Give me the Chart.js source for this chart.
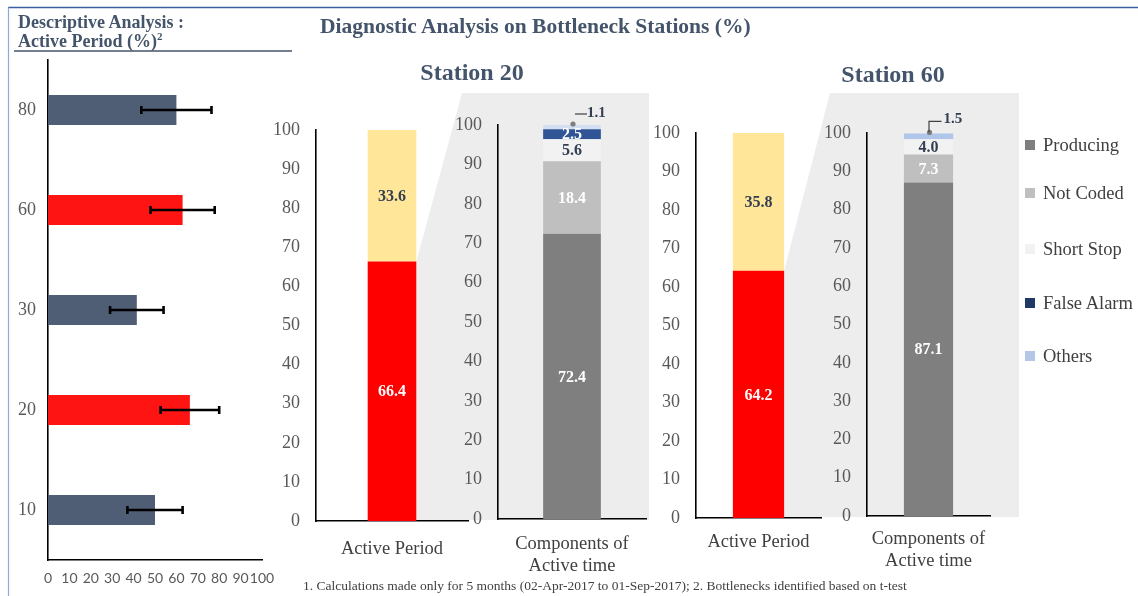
<!DOCTYPE html>
<html>
<head>
<meta charset="utf-8">
<script src="https://cdn.jsdelivr.net/npm/chart.js@4.4.1/dist/chart.umd.min.js"></script>
<style>
html,body{margin:0;padding:0;background:#fff;width:1138px;height:596px;overflow:hidden;position:relative;font-family:"Liberation Serif","Times New Roman",serif;}
canvas{position:absolute;}
.t{position:absolute;white-space:nowrap;z-index:3;}
.ttl{color:#44546A;font-weight:bold;}
.leg{position:absolute;z-index:3;font-size:18.5px;color:#404040;line-height:20px;height:20px;white-space:nowrap;}
.leg i{position:absolute;left:-18px;top:5px;width:10px;height:10px;}
</style>
</head>
<body>
<canvas id="bg" width="1138" height="596" style="left:0;top:0;z-index:0"></canvas>
<canvas id="cLeft" style="z-index:1"></canvas>
<canvas id="c20a" style="z-index:1"></canvas>
<canvas id="c20b" style="z-index:1"></canvas>
<canvas id="c60a" style="z-index:1"></canvas>
<canvas id="c60b" style="z-index:1"></canvas>

<div class="t ttl" style="left:18px;top:13px;font-size:18px;line-height:18px;">Descriptive Analysis :</div>
<div class="t ttl" style="left:18px;top:32px;font-size:18px;line-height:18px;">Active Period (%)<sup style="font-size:11px;line-height:0;">2</sup></div>
<div class="t ttl" style="left:320px;top:16px;font-size:21.5px;line-height:21.5px;">Diagnostic Analysis on Bottleneck Stations (%)</div>
<div class="t ttl" style="left:372px;width:200px;text-align:center;top:60px;font-size:24px;line-height:24px;">Station 20</div>
<div class="t ttl" style="left:793px;width:200px;text-align:center;top:62px;font-size:24px;line-height:24px;">Station 60</div>
<div id="legend"></div>
<div class="t" style="left:303px;top:578px;font-size:13.5px;line-height:16px;color:#404040;">1. Calculations made only for 5 months (02-Apr-2017 to 01-Sep-2017); 2. Bottlenecks identified based on t-test</div>

<script>
// ---------------- data ----------------
const leftStations = ['80', '60', '30', '20', '10'];
const leftActivePeriod = [60.0, 62.9, 41.5, 66.3, 50.0];
const leftError = [16.4, 15.0, 12.5, 13.7, 12.9];
const leftBottleneck = [false, true, false, true, false];
const leftTicks = [0, 10, 20, 30, 40, 50, 60, 70, 80, 90, 100];

const activeCategory = ['Active Period'];
const componentCategory = [['Components of', 'Active time']];
const s20Active = [66.4];
const s20Idle = [33.6];
const s60Active = [64.2];
const s60Idle = [35.8];

const componentNames = ['Producing', 'Not Coded', 'Short Stop', 'False Alarm', 'Others'];
const s20Producing = [72.4], s20NotCoded = [18.4], s20ShortStop = [5.6], s20FalseAlarm = [2.5], s20Others = [1.1];
const s60Producing = [87.1], s60NotCoded = [7.3], s60ShortStop = [4.0], s60FalseAlarm = [0], s60Others = [1.5];
const percentTicks = [0, 10, 20, 30, 40, 50, 60, 70, 80, 90, 100];

// ---------------- styles ----------------
const SERIF = '"Liberation Serif","Times New Roman",serif';
Chart.defaults.font.family = SERIF;
const legendColors = ['#7F7F7F', '#BFBFBF', '#F2F2F2', '#203864', '#B4C7E7'];

// error bars drawn through the chart's own scales
const errorBarPlugin = {
  id: 'errbars',
  afterDatasetsDraw(chart, args, opts) {
    if (!opts || !opts.errors) return;
    const ctx = chart.ctx, xs = chart.scales.x;
    const meta = chart.getDatasetMeta(0);
    const vals = chart.data.datasets[0].data;
    ctx.save();
    ctx.strokeStyle = '#000'; ctx.lineWidth = 2.6; ctx.lineCap = 'butt';
    meta.data.forEach((el, i) => {
      const e = opts.errors[i];
      const x1 = xs.getPixelForValue(vals[i] - e), x2 = xs.getPixelForValue(vals[i] + e), y = el.y;
      ctx.beginPath();
      ctx.moveTo(x1, y); ctx.lineTo(x2, y);
      ctx.moveTo(x1, y - 4); ctx.lineTo(x1, y + 4);
      ctx.moveTo(x2, y - 4); ctx.lineTo(x2, y + 4);
      ctx.stroke();
    });
    ctx.restore();
  }
};

const valueLabelPlugin = {
  id: 'valueLabels',
  afterDatasetsDraw(chart) {
    const ctx = chart.ctx;
    chart.data.datasets.forEach((ds, di) => {
      const lab = ds.valueLabel;
      if (!lab) return;
      const meta = chart.getDatasetMeta(di);
      meta.data.forEach((el, i) => {
        const v = ds.data[i];
        if (!v) return;
        const text = v.toFixed(1);
        ctx.save();
        ctx.textBaseline = 'middle';
        if (lab.callout) {
          const x = el.x, y = el.y;
          ctx.fillStyle = '#7F7F7F';
          ctx.beginPath(); ctx.arc(x + 1, y - 1, 2.6, 0, Math.PI * 2); ctx.fill();
          ctx.strokeStyle = '#404040'; ctx.lineWidth = 1.2;
          ctx.beginPath();
          let tx, ty;
          if (lab.callout === 'elbow') {
            ctx.moveTo(x + 0.5, y - 1); ctx.lineTo(x + 0.5, y - 12); ctx.lineTo(x + 13, y - 12);
            tx = x + 15; ty = y - 14;
          } else {
            ctx.moveTo(x + 3, y - 11); ctx.lineTo(x + 15, y - 11);
            tx = x + 15; ty = y - 12;
          }
          ctx.stroke();
          ctx.font = 'bold 15px ' + SERIF;
          ctx.fillStyle = lab.color; ctx.textAlign = 'left';
          ctx.fillText(text, tx, ty);
        } else {
          ctx.font = 'bold 16px ' + SERIF;
          ctx.fillStyle = lab.color; ctx.textAlign = 'center';
          ctx.fillText(text, el.x, (el.y + el.base) / 2 + 1);
        }
        ctx.restore();
      });
    });
  }
};
Chart.register(errorBarPlugin, valueLabelPlugin);

function makeChart(id, rect, area, config) {
  const cv = document.getElementById(id);
  cv.width = rect.w; cv.height = rect.h;
  cv.style.left = rect.l + 'px'; cv.style.top = rect.t + 'px';
  cv.style.width = rect.w + 'px'; cv.style.height = rect.h + 'px';
  const o = config.options;
  o.responsive = false; o.animation = false; o.devicePixelRatio = 1;
  o.events = [];
  o.layout = { padding: { left: 0, top: area.t - rect.t, right: rect.l + rect.w - area.r, bottom: 0 } };
  o.scales.y.afterFit = s => { s.width = area.l - rect.l; };
  o.scales.x.afterFit = s => { s.height = rect.t + rect.h - area.b; };
  o.plugins = Object.assign({ legend: { display: false }, tooltip: { enabled: false } }, o.plugins || {});
  return new Chart(cv, config);
}

const axisBorder = { display: true, color: '#000', width: 1.6 };

// ---------------- left chart ----------------
const leftRect = { l: 0, t: 40, w: 292, h: 556 };
makeChart('cLeft', leftRect, { l: 48, t: 60, r: 262, b: 560 }, {
  type: 'bar',
  data: {
    labels: leftStations,
    datasets: [{
      data: leftActivePeriod,
      backgroundColor: leftBottleneck.map(b => b ? '#FF1414' : '#4F5D75'),
      barPercentage: 0.3, categoryPercentage: 1
    }]
  },
  options: {
    indexAxis: 'y',
    plugins: { errbars: { errors: leftError } },
    scales: {
      x: {
        type: 'linear', min: 0, max: 100,
        afterBuildTicks: s => { s.ticks = leftTicks.map(v => ({ value: v })); },
        grid: { display: false }, border: axisBorder,
        ticks: { autoSkip: false, maxRotation: 0, padding: 2, color: '#595959', font: { family: 'Lato', size: 14 } }
      },
      y: {
        grid: { display: false }, border: axisBorder,
        ticks: { padding: 4, color: '#595959', font: { size: 18 } }
      }
    }
  }
});

// ---------------- stacked charts ----------------
function pctAxis() {
  return {
    stacked: true, min: 0, max: 100,
    afterBuildTicks: s => { s.ticks = percentTicks.map(v => ({ value: v })); },
    grid: { display: false }, border: axisBorder,
    ticks: { padding: 8, color: '#595959', font: { size: 18 } }
  };
}
function catAxis(pad) {
  return {
    stacked: true, grid: { display: false }, border: axisBorder,
    ticks: { padding: pad, color: '#404040', font: { size: 18.5, lineHeight: 1.2 }, maxRotation: 0, autoSkip: false }
  };
}
function activeChart(id, rect, area, act, idle, bp, pad) {
  return makeChart(id, rect, area, {
    type: 'bar',
    data: {
      labels: activeCategory,
      datasets: [
        { label: 'Active', data: act, backgroundColor: '#FF0000', barPercentage: bp, categoryPercentage: 1, valueLabel: { color: '#FFFFFF' } },
        { label: 'Idle', data: idle, backgroundColor: '#FFE699', barPercentage: bp, categoryPercentage: 1, valueLabel: { color: '#333F50' } }
      ]
    },
    options: { scales: { x: catAxis(pad), y: pctAxis() } }
  });
}
function componentChart(id, rect, area, vals, bp, pad, othersColor, callout) {
  const colors = ['#7F7F7F', '#BFBFBF', '#F2F2F2', '#2F5597', othersColor];
  const labelColors = ['#FFFFFF', '#FFFFFF', '#333F50', '#FFFFFF', '#333F50'];
  return makeChart(id, rect, area, {
    type: 'bar',
    data: {
      labels: componentCategory,
      datasets: componentNames.map((n, k) => ({
        label: n, data: vals[k], backgroundColor: colors[k], barPercentage: bp, categoryPercentage: 1,
        valueLabel: k === 4 ? { color: '#333F50', callout: callout } : { color: labelColors[k] }
      }))
    },
    options: { scales: { x: catAxis(pad), y: pctAxis() } }
  });
}

const r20a = { l: 262, t: 100, w: 223, h: 480 };
const r20b = { l: 440, t: 95, w: 225, h: 485 };
const r60a = { l: 640, t: 100, w: 195, h: 480 };
const r60b = { l: 815, t: 100, w: 195, h: 480 };

const c20a = activeChart('c20a', r20a, { l: 316, t: 130, r: 468, b: 521 }, s20Active, s20Idle, 0.32, 9);
componentChart('c20b', r20b, { l: 498, t: 125, r: 646, b: 519 },
  [s20Producing, s20NotCoded, s20ShortStop, s20FalseAlarm, s20Others], 0.39, 6, '#D3DEF1', 'dash');
const c60a = activeChart('c60a', r60a, { l: 696, t: 133, r: 821, b: 518 }, s60Active, s60Idle, 0.41, 5);
componentChart('c60b', r60b, { l: 867, t: 133, r: 990, b: 516 },
  [s60Producing, s60NotCoded, s60ShortStop, s60FalseAlarm, s60Others], 0.40, 4, '#AFC5EA', 'elbow');

// ---------------- background (zoom panels and frame) ----------------
(function drawBg() {
  const ctx = document.getElementById('bg').getContext('2d');
  function zoomPanel(chart, rect, topLeftX, top, right, bottom) {
    const el = chart.getDatasetMeta(0).data[0];
    const cx = rect.l + el.x + el.width / 2, cy = rect.t + el.y;
    ctx.fillStyle = '#EDEDED';
    ctx.beginPath();
    ctx.moveTo(cx, cy); ctx.lineTo(topLeftX, top); ctx.lineTo(right, top);
    ctx.lineTo(right, bottom); ctx.lineTo(cx, bottom); ctx.closePath(); ctx.fill();
  }
  zoomPanel(c20a, r20a, 462, 93, 649, 520);
  zoomPanel(c60a, r60a, 830, 93, 1019, 517);
  // frame
  ctx.strokeStyle = '#3A5FA0'; ctx.lineWidth = 1.4;
  ctx.beginPath(); ctx.moveTo(8, 7.5); ctx.lineTo(1138, 7.5); ctx.stroke();
  ctx.strokeStyle = '#8EA9DB'; ctx.lineWidth = 1.2;
  ctx.beginPath(); ctx.moveTo(8.5, 7.5); ctx.lineTo(8.5, 596); ctx.stroke();
  ctx.strokeStyle = '#44546A'; ctx.lineWidth = 1.6;
  ctx.beginPath(); ctx.moveTo(14, 51); ctx.lineTo(292, 51); ctx.stroke();
})();

// ---------------- legend ----------------
(function legend() {
  const ys = [145, 193, 249, 303, 356];
  const host = document.getElementById('legend');
  componentNames.forEach((n, k) => {
    const d = document.createElement('div');
    d.className = 'leg';
    d.style.left = '1043px'; d.style.top = (ys[k] - 10) + 'px';
    d.innerHTML = '<i style="background:' + legendColors[k] + '"></i>' + n;
    host.appendChild(d);
  });
})();
</script>
</body>
</html>
